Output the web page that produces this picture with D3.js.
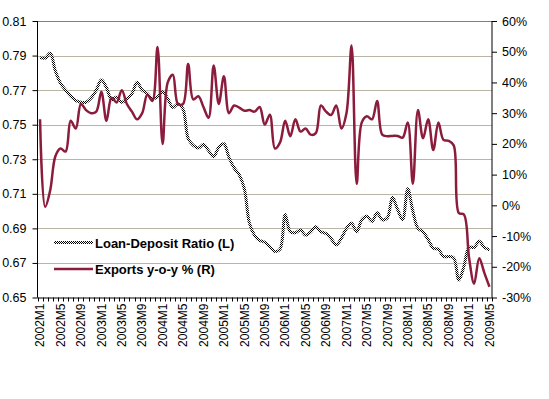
<!DOCTYPE html>
<html>
<head>
<meta charset="utf-8">
<script src="https://cdn.jsdelivr.net/npm/d3@7"></script>
<style>
  body { margin: 0; background: #fff; }
  text { font-family: Arial, 'Liberation Sans', sans-serif; fill: #000; }
</style>
</head>
<body>
<div id="plot"></div>
<script>
// monthly categories 2002M1 .. 2009M5
let months = [];
for (let y = 2002; y <= 2009; y++) {
  for (let m = 1; m <= 12; m++) {
    if (y === 2009 && m > 5) break;
    months.push(y + 'M' + m);
  }
}

let loanDeposit = [
  0.789, 0.7885, 0.7915, 0.781, 0.774, 0.770, 0.7665, 0.764, 0.763, 0.763, 0.7655, 0.770,
  0.776, 0.7715, 0.7645, 0.766, 0.763, 0.765, 0.768, 0.7745, 0.770, 0.768, 0.765, 0.766,
  0.769, 0.765, 0.760, 0.762, 0.759, 0.742, 0.738, 0.7365, 0.7385, 0.735, 0.7315, 0.737,
  0.739, 0.731, 0.725, 0.721, 0.713, 0.693, 0.686, 0.683, 0.682, 0.6795, 0.6766, 0.678,
  0.698, 0.688, 0.6875, 0.689, 0.686, 0.688, 0.691, 0.688, 0.687, 0.684, 0.6805, 0.6843,
  0.690, 0.693, 0.688, 0.695, 0.697, 0.694, 0.699, 0.695, 0.696, 0.708, 0.701, 0.695,
  0.713, 0.700, 0.690, 0.688, 0.6835, 0.6785, 0.678, 0.6737, 0.6737, 0.673, 0.660, 0.668,
  0.679, 0.679, 0.6825, 0.679, 0.6776
];

// exports y-o-y, percent
let exportsYoY = [
  28, -0.5, 5, 16, 18.5, 17.5, 27.5, 25, 33, 31, 30, 30.5,
  37, 27.5, 35, 33.5, 37.5, 33, 30.5, 28, 30, 36, 34, 51.5,
  20, 40, 42.5, 33, 33, 46, 34.5, 35.5, 32, 28.5, 45.5, 33,
  42, 30, 32.5, 31.8, 30.8, 31, 30.5, 32, 26.3, 29.5, 18.5, 20.5,
  27.5, 22.5, 28, 24, 25, 23, 23.5, 32.5, 30.5, 29.4, 32.5, 25,
  30, 52, 7, 27, 29, 28, 34, 23, 22.5, 22.6, 22.6, 22,
  27, 7, 31, 21.8, 28, 18, 27, 21.3, 21, 19.5, -2.5, -3,
  -17, -25.5, -17.2, -22, -26.5
];

let leftTicks = [0.65, 0.67, 0.69, 0.71, 0.73, 0.75, 0.77, 0.79, 0.81];
let rightTicks = [-30, -20, -10, 0, 10, 20, 30, 40, 50, 60];
let legendLabels = ['Loan-Deposit Ratio (L)', 'Exports y-o-y % (R)'];

let width = 549, height = 399;
let plotL = 37.5, plotR = 492, plotT = 21, plotB = 297.5;

let svg = d3.select('#plot').append('svg').attr('width', width).attr('height', height);

let defs = svg.append('defs');
let pat = defs.append('pattern').attr('id', 'dither')
  .attr('width', 2).attr('height', 2).attr('patternUnits', 'userSpaceOnUse');
pat.append('rect').attr('width', 2).attr('height', 2).attr('fill', '#fff');
pat.append('rect').attr('width', 1).attr('height', 1).attr('fill', '#000');
pat.append('rect').attr('x', 1).attr('y', 1).attr('width', 1).attr('height', 1).attr('fill', '#000');

let x = d3.scaleBand().domain(months).range([plotL, plotR]).padding(0);
let cx = d => x(d) + x.bandwidth() / 2;
let yL = d3.scaleLinear().domain([0.65, 0.81]).range([plotB, plotT]);
let yR = d3.scaleLinear().domain([-30, 60]).range([plotB, plotT]);

// gridlines
svg.append('g').selectAll('line').data(leftTicks.slice(1)).enter().append('line')
  .attr('x1', plotL).attr('x2', plotR)
  .attr('y1', d => Math.round(yL(d)) + 0.5).attr('y2', d => Math.round(yL(d)) + 0.5)
  .attr('stroke', (d, i) => i === leftTicks.length - 2 ? '#808080' : '#bcb5a6')
  .attr('stroke-width', 1);

// left axis
let gl = svg.append('g').attr('transform', `translate(${plotL},0)`)
  .call(d3.axisLeft(yL).tickValues(leftTicks).tickFormat(d3.format('.2f')).tickSize(5).tickPadding(6));
gl.select('.domain').attr('d', `M0,${plotT}V${plotB}`);
gl.selectAll('text').style('font-size', '12.5px');

// right axis
let gr = svg.append('g').attr('transform', `translate(${plotR},0)`)
  .call(d3.axisRight(yR).tickValues(rightTicks).tickFormat(d => d + '%').tickSize(5).tickPadding(5));
gr.select('.domain').attr('d', `M0,${plotT}V${plotB}`);
gr.selectAll('text').style('font-size', '12.5px');

// bottom axis: tick marks between categories, labels every 4 months
let gb = svg.append('g').attr('transform', `translate(0,${plotB})`);
gb.append('line').attr('x1', plotL).attr('x2', plotR).attr('y1', 0.5).attr('y2', 0.5).attr('stroke', '#000');
let bounds = months.map(d => x(d)).concat([x.range()[1]]);
gb.selectAll('line.tk').data(bounds).enter().append('line').attr('class', 'tk')
  .attr('x1', d => Math.round(d) + 0.5).attr('x2', d => Math.round(d) + 0.5)
  .attr('y1', 0).attr('y2', 4).attr('stroke', '#000');
gb.selectAll('text').data(months.filter((d, i) => i % 4 === 0)).enter().append('text')
  .attr('transform', d => `translate(${cx(d)},6) rotate(-90)`)
  .attr('text-anchor', 'end').attr('dy', '0.35em')
  .style('font-size', '12px')
  .text(d => d);

// series
let lineL = d3.line().x((d, i) => cx(months[i])).y(d => yL(d)).curve(d3.curveCatmullRom.alpha(0.5));
let lineR = d3.line().x((d, i) => cx(months[i])).y(d => yR(d)).curve(d3.curveCatmullRom.alpha(0.5));

svg.append('path').datum(loanDeposit).attr('d', lineL)
  .attr('fill', 'none').attr('stroke', 'url(#dither)').attr('stroke-width', 3);
svg.append('path').datum(exportsYoY).attr('d', lineR)
  .attr('fill', 'none').attr('stroke', '#8c1c3c').attr('stroke-width', 2.5)
  .attr('stroke-linejoin', 'round');

// legend
let legend = svg.append('g');
let styles = [{stroke: 'url(#dither)', w: 3}, {stroke: '#8c1c3c', w: 2.5}];
legendLabels.forEach((t, i) => {
  let yy = 242.5 + i * 26.5;
  legend.append('line').attr('x1', 54).attr('x2', 93).attr('y1', yy).attr('y2', yy)
    .attr('stroke', styles[i].stroke).attr('stroke-width', styles[i].w);
  legend.append('text').attr('x', 95).attr('y', yy + 5)
    .style('font-size', '13px').style('font-weight', 'bold').text(t);
});
</script>
</body>
</html>
